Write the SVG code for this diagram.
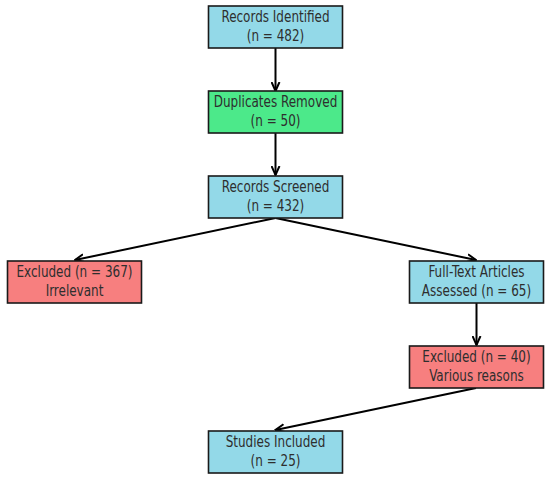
<svg xmlns="http://www.w3.org/2000/svg" width="550" height="479" viewBox="0 0 550 479">
<style>
.box{stroke:#1a1a1a;stroke-width:1.6}
.blue{fill:#93d9e8}
.green{fill:#4ce98a}
.red{fill:#f77f7f}
text{font-family:"DejaVu Sans Condensed","DejaVu Sans",sans-serif;font-stretch:condensed;font-size:15px;fill:#2e2e2e;text-anchor:middle}
.edge{stroke:#000;stroke-width:2;fill:none;marker-end:url(#ah)}
</style>
<defs>
<marker id="ah" markerWidth="10" markerHeight="10" viewBox="0 0 10 10" refX="9" refY="5" orient="auto" markerUnits="userSpaceOnUse">
<path d="M0,1 L9,5 L0,9" fill="none" stroke="#000" stroke-width="2"/>
</marker>
</defs>
<rect width="550" height="479" fill="#fff"/>
<g id="edges">
<line class="edge" x1="275.5" y1="48" x2="275.5" y2="91"/>
<line class="edge" x1="275.5" y1="133" x2="275.5" y2="175"/>
<line class="edge" x1="275.5" y1="218" x2="75" y2="260"/>
<line class="edge" x1="275.5" y1="218" x2="476" y2="260"/>
<line class="edge" x1="476.5" y1="303" x2="476.5" y2="345"/>
<line class="edge" x1="476" y1="388" x2="275.5" y2="430"/>
</g>
<g id="n1"><rect class="box blue" x="208.5" y="6" width="134" height="42"/><text transform="translate(275.5,21.8) scale(0.89,1)"><tspan x="0">Records Identified</tspan><tspan x="0" dy="19">(n = 482)</tspan></text></g>
<g id="n2"><rect class="box green" x="208.5" y="91" width="134" height="42"/><text transform="translate(275.5,106.8) scale(0.89,1)"><tspan x="0">Duplicates Removed</tspan><tspan x="0" dy="19">(n = 50)</tspan></text></g>
<g id="n3"><rect class="box blue" x="208.5" y="176" width="134" height="42"/><text transform="translate(275.5,191.8) scale(0.89,1)"><tspan x="0">Records Screened</tspan><tspan x="0" dy="19">(n = 432)</tspan></text></g>
<g id="n4"><rect class="box red" x="7.5" y="261" width="134" height="42"/><text transform="translate(74.5,276.8) scale(0.89,1)"><tspan x="0">Excluded (n = 367)</tspan><tspan x="0" dy="19">Irrelevant</tspan></text></g>
<g id="n5"><rect class="box blue" x="409.5" y="261" width="134" height="42"/><text transform="translate(476.5,276.8) scale(0.89,1)"><tspan x="0">Full-Text Articles</tspan><tspan x="0" dy="19">Assessed (n = 65)</tspan></text></g>
<g id="n6"><rect class="box red" x="409.5" y="346" width="134" height="42"/><text transform="translate(476.5,361.8) scale(0.89,1)"><tspan x="0">Excluded (n = 40)</tspan><tspan x="0" dy="19">Various reasons</tspan></text></g>
<g id="n7"><rect class="box blue" x="208.5" y="431" width="134" height="42"/><text transform="translate(275.5,446.8) scale(0.89,1)"><tspan x="0">Studies Included</tspan><tspan x="0" dy="19">(n = 25)</tspan></text></g>
</svg>
